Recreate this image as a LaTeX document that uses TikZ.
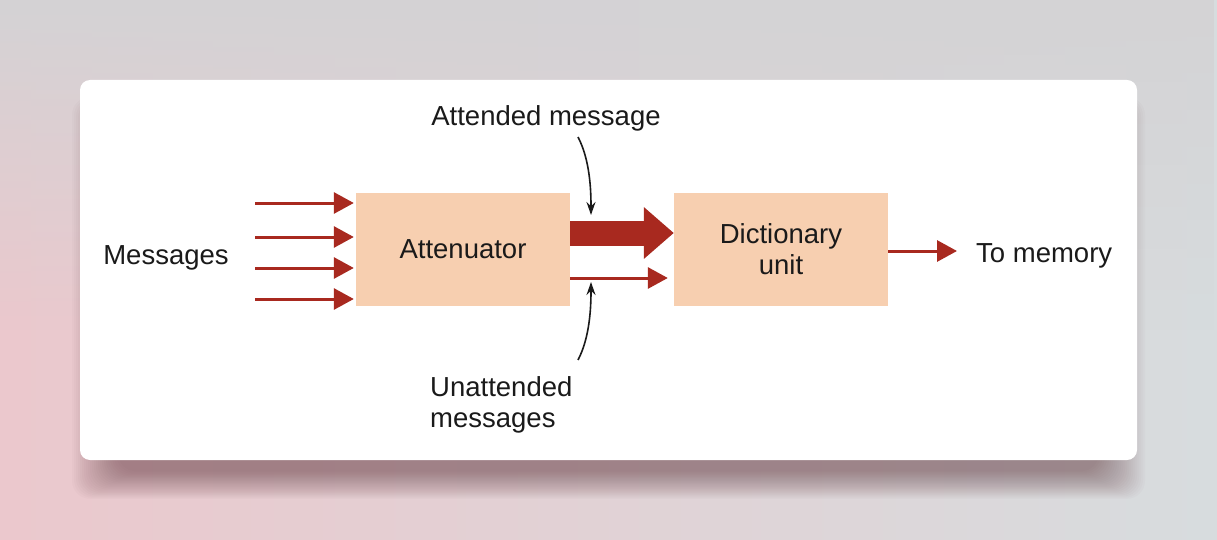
\documentclass[tikz,border=0pt]{standalone}
\usepackage{fontspec}
\setmainfont{Liberation Sans}
\usetikzlibrary{arrows.meta,fadings}
\definecolor{peach}{HTML}{F7CFB0}
\definecolor{arrred}{HTML}{A8291F}
\definecolor{bgtop}{HTML}{D4D3D5}
\definecolor{bgpink}{HTML}{EBC8CD}
\definecolor{bgright}{HTML}{D7DCDE}
\definecolor{shadowc}{HTML}{5A3038}
\definecolor{txt}{HTML}{1A1A1A}
\tikzset{
  box/.style={fill=peach, minimum width=214pt, minimum height=113pt, inner sep=0pt, align=center, font=\fontsize{27.5}{31}\selectfont, text=txt},
  lbl/.style={font=\fontsize{27.5}{31}\selectfont, text=txt, inner sep=0pt},
  inarrow/.style={draw=arrred, line width=3pt, -{Triangle[length=20pt,width=21pt]}, arrred},
  thickarrow/.style={draw=arrred, line width=25pt, -{Triangle[length=30pt,width=50pt]}, arrred},
  pointer/.style={draw=txt, line width=1.6pt, -{Stealth[length=13pt,width=9pt]}}
}
\begin{document}
\begin{tikzpicture}[x=1pt,y=-1pt]
\useasboundingbox (0,0) rectangle (1217,540);
% background
\shade[left color=bgpink, right color=bgright] (0,0) rectangle (1217,540);
\fill[bgtop, path fading=south] (0,0) rectangle (1217,330);
% soft shadow
\foreach \i in {1,...,24}{
  \fill[shadowc, opacity=0.024, rounded corners=18pt]
    (80+2*\i-10, 96+\i) rectangle (1137-2*\i+10, 460+40-1.2*\i);
}
% card
\fill[white, rounded corners=10pt] (80,80) rectangle (1137,460);
% boxes
\node[box] (att) at (463,249.5) {Attenuator};
\node[box, text depth=1pt] (dict) at (781,249.5) {Dictionary\\unit};
% labels
\node[lbl] (msgs) at (166,258) {Messages};
\node[lbl, anchor=west] (tomem) at (976,256) {To memory};
\node[lbl] (attmsg) at (546,118) {Attended message};
\node[lbl, anchor=north west, align=left, text depth=0pt] (unatt) at (430,376) {Unattended\\messages};
% input arrows
\foreach \y/\n in {203/a,237/b,268/c,299/d}{
  \coordinate (in\n) at (255,\y);
  \draw[inarrow, shorten >=2pt] (in\n) -- (att.west |- in\n);
}
% output arrows
\draw[thickarrow] ([yshift=16.5pt]att.east) -- ([yshift=16.5pt]att.east -| dict.west);
\draw[inarrow, shorten >=6pt] ([yshift=-28.5pt]att.east) -- ([yshift=-28.5pt]att.east -| dict.west);
\coordinate (outy) at (888,251);
\draw[inarrow, shorten >=19pt] (outy) -- (outy -| tomem.west);
% pointers
\coordinate (p1s) at (578,137);
\coordinate (p1e) at (591,215);
\coordinate (p2s) at (578,360);
\coordinate (p2e) at (591,282);
\draw[pointer] (p1s) .. controls (590,160) and (591,190) .. (p1e);
\draw[pointer] (p2s) .. controls (590,337) and (591,307) .. (p2e);
\end{tikzpicture}
\end{document}
